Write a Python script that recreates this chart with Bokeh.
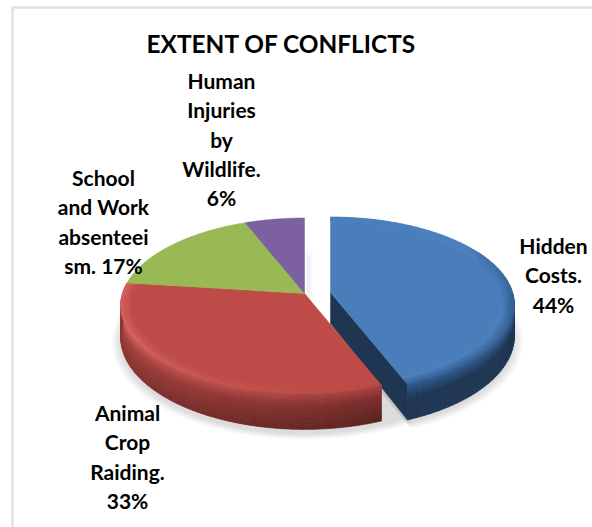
import numpy as np
from bokeh.plotting import figure
from bokeh.models import ColumnDataSource
from bokeh.core.properties import value
from bokeh.embed import file_html
from bokeh.resources import INLINE

# ---- data ----
categories = ["Hidden Costs.", "Animal Crop Raiding.", "School and Work absenteeism.", "Human Injuries by Wildlife."]
shares = [44, 33, 17, 6]
top_colors = ["#4a7ebb", "#be4b48", "#98b954", "#7d60a0"]
title = "EXTENT OF CONFLICTS"
label_lines = [["Hidden", "Costs.", "44%"],
               ["Animal", "Crop", "Raiding.", "33%"],
               ["School", "and Work", "absenteei", "sm. 17%"],
               ["Human", "Injuries", "by", "Wildlife.", "6%"]]
label_cx = [553, 127, 103, 221]
label_y0 = [245, 412, 177, 80]

# ---- geometry of the tilted pie (page pixels) ----
CX, CY, R, H, K, T = 304.0, 293.0, 182.0, 86.0, 0.139, 31.0
offsets = [(26.0, -1.0), (0, 0), (0, 0), (0, 0)]
W, HT = 592, 527


def proj(theta, r=1.0, dx=0.0, dy=0.0, z=0.0):
    """theta clockwise from the back of the pie; r radial; z depth below the top face."""
    u, v = r * np.sin(theta), r * np.cos(theta)
    w = 1 + K * v
    return CX + dx + R * u / w, CY + dy - H * v / w + T * z / w


def mix(a, b, t):
    ca = [int(a[i:i + 2], 16) for i in (1, 3, 5)]
    cb = [int(b[i:i + 2], 16) for i in (1, 3, 5)]
    return "#%02x%02x%02x" % tuple(int(round(x + (y - x) * t)) for x, y in zip(ca, cb))


edges = np.radians(np.concatenate([[0], np.cumsum(shares)]) * 3.6)

p = figure(width=W, height=HT, x_range=(0, W), y_range=(HT, 0),
           output_backend="svg", toolbar_location=None, min_border=0,
           outline_line_color=None, background_fill_color="white", border_fill_color="white")
p.xaxis.visible = False
p.yaxis.visible = False
p.grid.visible = False

# chart frame (top and left only)
p.line([12, 12, W], [HT, 7, 7], line_color="#e2e2e2", line_width=2.5)

# soft shadow
ang = np.linspace(0, 2 * np.pi, 200)
for i in range(9):
    s = 1.0 + 0.006 * i
    sx, sy = proj(ang[(ang > np.radians(150)) & (ang < np.radians(290))], r=s, z=1.12)
    p.patch(np.r_[sx, CX], np.r_[sy, CY], fill_color="#808080", fill_alpha=0.03, line_color=None)
    bx, by = proj(np.linspace(np.radians(60), edges[1], 80), r=s, dx=26, dy=-1, z=1.1)
    p.patch(np.r_[bx, CX + 26 - i], np.r_[by, CY + 33],
            fill_color="#808080", fill_alpha=0.03, line_color=None)
# faint shadow behind the gap
for i in range(5):
    p.quad(left=[CX + i], right=[CX + 8 - i], top=[248 + 3 * i], bottom=[300],
           fill_color="#808080", fill_alpha=0.03, line_color=None)

# rim (side wall) quads
def rim(a0, a1, color_fn, dx=0.0, dy=0.0, nz=14):
    ths = np.linspace(a0, a1, max(8, int((a1 - a0) * 40)))
    xs, ys, cs = [], [], []
    zs = np.linspace(0, 1, nz + 1)
    for j in range(len(ths) - 1):
        th0, th1 = ths[j], ths[j + 1]
        for n in range(nz):
            x0, y0 = proj(th0, dx=dx, dy=dy, z=zs[n])
            x1, y1 = proj(th1, dx=dx, dy=dy, z=zs[n])
            x2, y2 = proj(th1, dx=dx, dy=dy, z=zs[n + 1])
            x3, y3 = proj(th0, dx=dx, dy=dy, z=zs[n + 1])
            xs.append([x0, x1, x2, x3])
            ys.append([y0, y1, y2, y3])
            cs.append(color_fn((th0 + th1) / 2, (zs[n] + zs[n + 1]) / 2))
    p.patches("xs", "ys", source=ColumnDataSource(dict(xs=xs, ys=ys, c=cs)),
              fill_color="c", line_color="c", line_width=0.7)


def red_rim(th, z):
    # bright near the left, dark to the right
    f = np.clip((np.degrees(th) - 160) / 95, 0, 1)   # 0 at right end, 1 at left
    hi = mix("#a8423f", "#d25f5b", f)
    mid = mix("#7a2d2b", "#ab4340", f)
    lo = mix("#5a2220", "#8a3533", f)
    return mix(hi, mid, z / 0.35) if z < 0.35 else mix(mid, lo, (z - 0.35) / 0.65)


def blue_rim(th, z):
    return mix("#2f5b8f", "#1f3653", min(z / 0.4, 1))


# blue cut face
bdx, bdy = offsets[0]
ex, ey = proj(edges[1], dx=bdx, dy=bdy)
fx, fy = proj(edges[1], dx=bdx, dy=bdy, z=1.0)
ax, ay = proj(0.0, r=0.0, dx=bdx, dy=bdy)
gx, gy = proj(0.0, r=0.0, dx=bdx, dy=bdy, z=1.0)
p.patch([ax, ex, fx, gx], [ay, ey, fy, gy], fill_color="#1f3653", line_color="#1f3653", line_width=0.5)
rim(np.radians(60), edges[1], blue_rim, dx=bdx, dy=bdy)
rim(edges[1], edges[2], red_rim)

# top faces with a bevel along the front edge
for i in range(len(shares)):
    dx, dy = offsets[i]
    th = np.linspace(edges[i], edges[i + 1], 120)
    x, y = proj(th, dx=dx, dy=dy)
    ax, ay = proj(0.0, r=0.0, dx=dx, dy=dy)
    if i == 0:
        base = top_colors[i]
        n = 8
        ths = np.linspace(edges[i], edges[i + 1], 60)
        xs, ys, cs = [], [], []
        for j in range(len(ths) - 1):
            f = np.clip((np.degrees(ths[j]) - 50) / 45, 0, 1)
            for b in range(n):
                r0, r1 = 1.0 - 0.07 * b / n, 1.0 - 0.07 * (b + 1) / n
                x0, y0 = proj(ths[j], r=r0, dx=dx, dy=dy); x1, y1 = proj(ths[j + 1], r=r0, dx=dx, dy=dy)
                x2, y2 = proj(ths[j + 1], r=r1, dx=dx, dy=dy); x3, y3 = proj(ths[j], r=r1, dx=dx, dy=dy)
                xs.append([x0, x1, x2, x3]); ys.append([y0, y1, y2, y3])
                cs.append(mix(mix(base, "#2f5b8f", f), base, (b + 1) / n))
        x4, y4 = proj(th, r=0.93, dx=dx, dy=dy)
        p.patch(np.r_[ax, x4], np.r_[ay, y4], fill_color=base, line_color=base, line_width=0.5)
        p.patches("xs", "ys", source=ColumnDataSource(dict(xs=xs, ys=ys, c=cs)),
                  fill_color="c", line_color="c", line_width=0.7)
    elif i == 1:
        base = top_colors[i]
        n = 8
        ths = np.linspace(edges[i], edges[i + 1], 60)
        xs, ys, cs = [], [], []
        for j in range(len(ths) - 1):
            f = np.clip((np.degrees(ths[j]) - 165) / 80, 0, 1)
            for b in range(n):
                r0, r1 = 1.0 - 0.06 * b / n, 1.0 - 0.06 * (b + 1) / n
                x0, y0 = proj(ths[j], r=r0); x1, y1 = proj(ths[j + 1], r=r0)
                x2, y2 = proj(ths[j + 1], r=r1); x3, y3 = proj(ths[j], r=r1)
                xs.append([x0, x1, x2, x3]); ys.append([y0, y1, y2, y3])
                cs.append(mix(mix("#b64744", "#d96561", f), base, (b + 1) / n))
        x4, y4 = proj(th, r=0.94)
        p.patch(np.r_[ax, x4], np.r_[ay, y4], fill_color=base, line_color=base, line_width=0.5)
        p.patches("xs", "ys", source=ColumnDataSource(dict(xs=xs, ys=ys, c=cs)),
                  fill_color="c", line_color="c", line_width=0.7)
    else:
        p.patch(np.r_[ax, x], np.r_[ay, y], fill_color=top_colors[i],
                line_color=top_colors[i], line_width=0.5)

# texts
FONT = value("Lato")
p.text([281], [43], text=[title], text_font=FONT, text_font_style="bold",
       text_font_size="24.4px", text_color="black", text_align="center", text_baseline="middle")
for lines, cx, y0 in zip(label_lines, label_cx, label_y0):
    ys = [y0 + 29.3 * k for k in range(len(lines))]
    p.text([cx] * len(lines), ys, text=lines, text_font=FONT, text_font_style="bold",
           text_font_size="21px", text_color="black", text_align="center", text_baseline="middle")

open("out.html", "w").write(file_html(p, INLINE))
